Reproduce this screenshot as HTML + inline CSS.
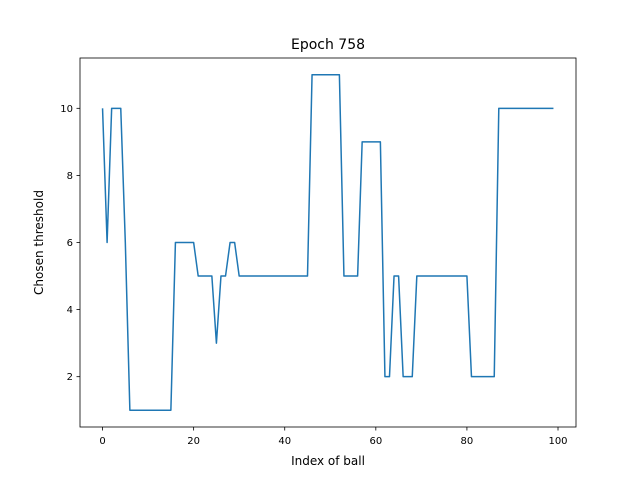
<!DOCTYPE html>
<html><head><meta charset="utf-8"><style>
body{margin:0;background:#fff}
svg text{font-family:"DejaVu Sans","Liberation Sans",sans-serif;fill:#000}
</style></head><body>
<svg id="chart" width="640" height="480" xmlns="http://www.w3.org/2000/svg">
<rect x="0" y="0" width="640" height="480" fill="#fff"/>
<text x="328" y="49" font-size="14" text-anchor="middle">Epoch 758</text>
<g id="ticks"></g>
<polyline id="series" fill="none" stroke="#1f77b4" stroke-width="1.5" stroke-linejoin="round"/>
<rect x="80" y="58" width="496" height="369" fill="none" stroke="#000" stroke-width="0.8"/>
<text x="328" y="465" font-size="12" text-anchor="middle">Index of ball</text>
<text x="0" y="0" font-size="12" text-anchor="middle" transform="translate(43,242.5) rotate(-90)">Chosen threshold</text>
</svg>
<script>
const values=[10,6,10,10,10,6,1,1,1,1,1,1,1,1,1,1,6,6,6,6,6,5,5,5,5,3,5,5,6,6,5,5,5,5,5,5,5,5,5,5,5,5,5,5,5,5,11,11,11,11,11,11,11,5,5,5,5,9,9,9,9,9,2,2,5,5,2,2,2,5,5,5,5,5,5,5,5,5,5,5,5,2,2,2,2,2,2,10,10,10,10,10,10,10,10,10,10,10,10,10];
const xTicks=[0,20,40,60,80,100];
const yTicks=[2,4,6,8,10];
const L=80,R=576,T=58,B=427;
const xmin=-4.95,xmax=103.95,ymin=0.5,ymax=11.5;
const xs=v=>L+(v-xmin)/(xmax-xmin)*(R-L);
const ys=v=>B-(v-ymin)/(ymax-ymin)*(B-T);
const NS="http://www.w3.org/2000/svg";
document.getElementById('series').setAttribute('points',values.map((v,i)=>xs(i).toFixed(2)+','+ys(v).toFixed(2)).join(' '));
const g=document.getElementById('ticks');
function mk(tag,attrs){const e=document.createElementNS(NS,tag);for(const k in attrs)e.setAttribute(k,attrs[k]);g.appendChild(e);return e;}
xTicks.forEach(t=>{const x=xs(t);
const l=mk('line',{x1:x,x2:x,y1:B,y2:B+3.5,stroke:'#000','stroke-width':0.8});


const tx=mk('text',{x:x,y:B+17,'font-size':10,'text-anchor':'middle'});tx.textContent=t;

});
yTicks.forEach(t=>{const y=ys(t);
const l=mk('line',{x1:L-3.5,x2:L,y1:y,y2:y,stroke:'#000','stroke-width':0.8});


const tx=mk('text',{x:L-7,y:y+3.5,'font-size':10,'text-anchor':'end'});tx.textContent=t;

});
</script>
</body></html>
